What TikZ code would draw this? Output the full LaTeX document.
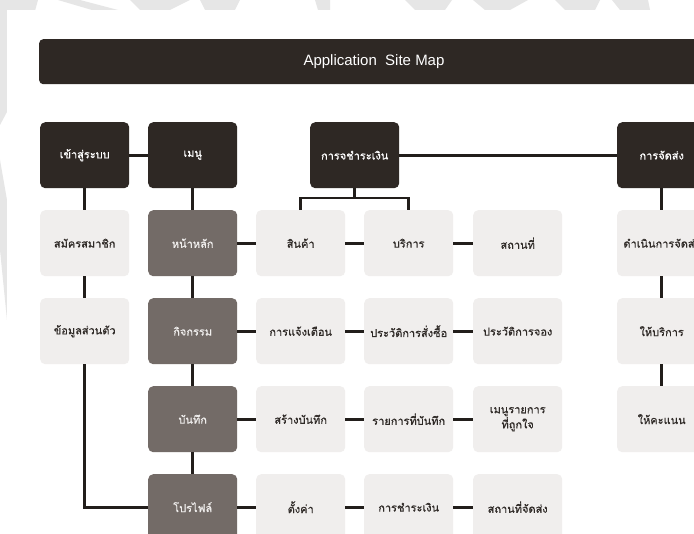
\documentclass[tikz,border=0pt]{standalone}
\usepackage{fontspec}
\setmainfont{Liberation Sans}
\newfontfamily\thaifont[Script=Thai, FakeBold=0.6]{Loma}
\usetikzlibrary{calc}

\definecolor{inkdark}{HTML}{2E2824}
\definecolor{midgray}{HTML}{736B67}
\definecolor{palebox}{HTML}{F0EEED}
\definecolor{wirecol}{HTML}{221E1B}
\definecolor{textdark}{HTML}{2F2A27}
\definecolor{wmark}{HTML}{E6E6E6}

\tikzset{
  cell/.style={rounded corners=5pt, minimum width=89pt, minimum height=66pt,
    inner sep=0pt, anchor=north west, align=center,
    font=\thaifont\fontsize{11}{13}\selectfont},
  darkcell/.style={cell, fill=inkdark, text=white},
  midcell/.style={cell, fill=midgray, text=palebox},
  palecell/.style={cell, fill=palebox, text=textdark},
  link/.style={draw=wirecol, line width=2.8pt},
  wm/.style={fill=wmark, draw=none}
}

\begin{document}
\begin{tikzpicture}[x=1pt, y=-1pt]
  \useasboundingbox (0,0) rectangle (694,534);
  \clip (0,0) rectangle (694,534);

  % faint emblem behind the sheet
  \fill[white] (0,0) rectangle (694,534);
  \fill[wm] (0,0) -- (38,0) -- (8,110) -- (0,125) -- cycle;
  \fill[wm] (0,160) -- (7,200) -- (7,320) -- (0,250) -- cycle;
  \fill[wm] (58,0) -- (80,0) -- (118,10) -- (92,10) -- cycle;
  \fill[wm] (130,0) -- (190,0) -- (170,10) -- (140,10) -- cycle;
  \fill[wm] (200,0) -- (240,0) -- (235,10) -- (205,10) -- cycle;
  \fill[wm] (315,0) -- (330,0) -- (330,10) -- (318,10) -- cycle;
  \fill[wm] (405,0) -- (452,0) -- (445,10) -- (415,10) -- cycle;
  \fill[wm] (473,0) -- (528,0) -- (510,10) -- (485,10) -- cycle;
  \fill[wm] (555,0) -- (600,0) -- (595,10) -- (565,10) -- cycle;
  \fill[wm] (612,0) -- (648,0) -- (650,10) -- (620,10) -- cycle;

  % the sheet
  \fill[white] (7,10) rectangle (720,560);

  % title bar
  \node[fill=inkdark, rounded corners=4pt, anchor=north west, inner sep=0pt,
        minimum width=700pt, minimum height=45pt] (bar) at (39,39) {};
  \node[text=white, font=\fontsize{15}{17}\selectfont] (title) at (374,61.5)
        {Application\ \ Site Map};

  % column 1
  \node[darkcell] (login)   at (40,122) {เข้าสู่ระบบ};
  \node[palecell] (signup)  at (40,210) {สมัครสมาชิก};
  \node[palecell] (persinfo) at (40,298) {ข้อมูลส่วนตัว};

  % column 2
  \node[darkcell] (menu)     at (148,122) {เมนู};
  \node[midcell]  (home)     at (148,210) {หน้าหลัก};
  \node[midcell]  (activity) at (148,298) {กิจกรรม};
  \node[midcell]  (notes)    at (148,386) {บันทึก};
  \node[midcell]  (profile)  at (148,474) {โปรไฟล์};

  % payment header
  \node[darkcell] (pay) at (310,122) {การจชำระเงิน};

  % rows of pages
  \node[palecell] (goods)    at (256,210) {สินค้า};
  \node[palecell] (service)  at (364,210) {บริการ};
  \node[palecell] (place)    at (473,210) {สถานที่};

  \node[palecell] (notify)   at (256,298) {การแจ้งเตือน};
  \node[palecell] (orders)   at (364,298) {ประวัติการสั่งซื้อ};
  \node[palecell] (bookings) at (473,298) {ประวัติการจอง};

  \node[palecell] (newnote)  at (256,386) {สร้างบันทึก};
  \node[palecell] (saved)    at (364,386) {รายการที่บันทึก};
  \node[palecell] (favmenu)  at (473,386) {เมนูรายการ\\ที่ถูกใจ};

  \node[palecell] (settings) at (256,474) {ตั้งค่า};
  \node[palecell] (payment)  at (364,474) {การชำระเงิน};
  \node[palecell] (shipaddr) at (473,474) {สถานที่จัดส่ง};

  % delivery column
  \node[darkcell] (ship)    at (617,122) {การจัดส่ง};
  \node[palecell] (doship)  at (617,210) {ดำเนินการจัดส่ง};
  \node[palecell] (givesvc) at (617,298) {ให้บริการ};
  \node[palecell] (rate)    at (617,386) {ให้คะแนน};

  % connectors
  \draw[link] (login) -- (menu);
  \draw[link] (pay) -- (ship);
  \draw[link] (login) -- (signup);
  \draw[link] (signup) -- (persinfo);
  \draw[link] (persinfo.south) |- (profile.west);

  \draw[link] (menu) -- (home);
  \draw[link] (home) -- (activity);
  \draw[link] (activity) -- (notes);
  \draw[link] (notes) -- (profile);

  \coordinate (fork) at ($(goods.north)+(0,-12)$);
  \draw[link] (pay.south) -- (pay.south |- fork);
  \draw[link] (goods.north) -- (fork) -| (service.north);

  \draw[link] (home) -- (goods);
  \draw[link] (goods) -- (service);
  \draw[link] (service) -- (place);

  \draw[link] (activity) -- (notify);
  \draw[link] (notify) -- (orders);
  \draw[link] (orders) -- (bookings);

  \draw[link] (notes) -- (newnote);
  \draw[link] (newnote) -- (saved);
  \draw[link] (saved) -- (favmenu);

  \draw[link] (profile) -- (settings);
  \draw[link] (settings) -- (payment);
  \draw[link] (payment) -- (shipaddr);

  \draw[link] (ship) -- (doship);
  \draw[link] (doship) -- (givesvc);
  \draw[link] (givesvc) -- (rate);
\end{tikzpicture}
\end{document}
